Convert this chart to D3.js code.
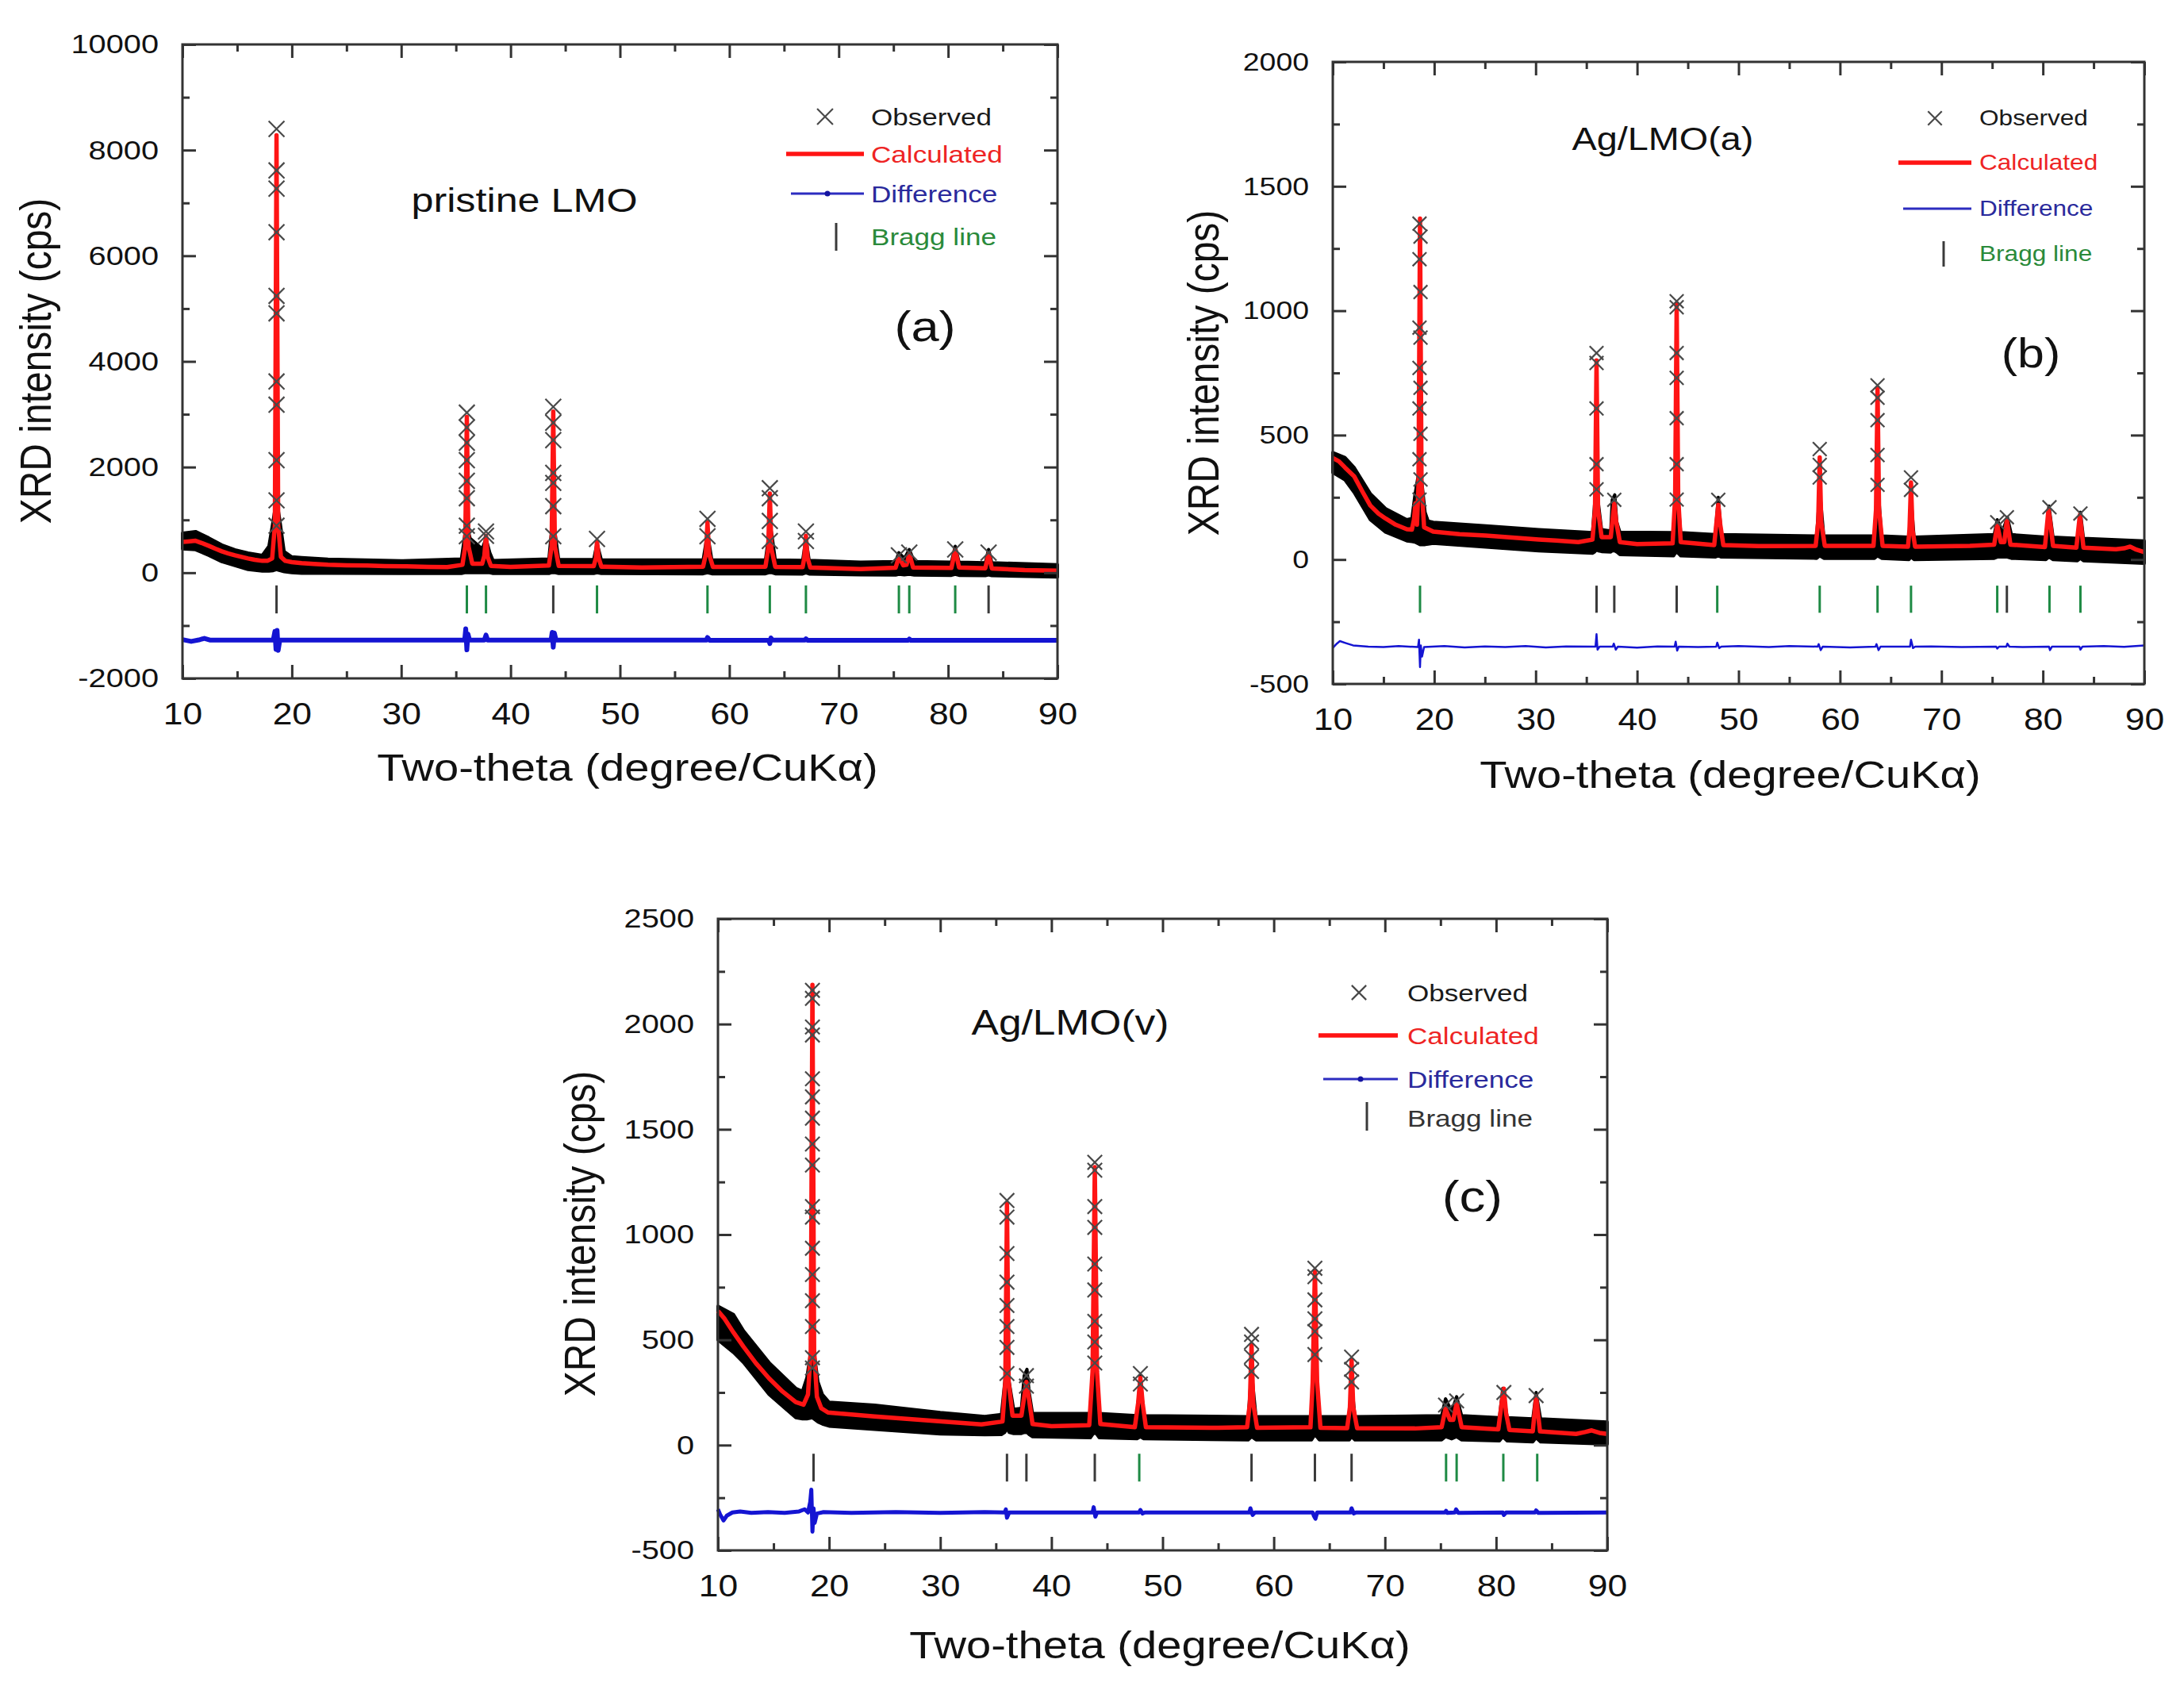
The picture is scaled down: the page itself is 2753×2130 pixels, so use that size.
<!DOCTYPE html>
<html>
<head>
<meta charset="utf-8">
<script src="https://cdn.jsdelivr.net/npm/d3@7"></script>
<style>
  body { margin: 0; background: #fff; }
</style>
</head>
<body>
<script>
// ---- tick values ----
var xTicks = [10, 20, 30, 40, 50, 60, 70, 80, 90];
var xMinor = [15, 25, 35, 45, 55, 65, 75, 85];
var yTicksA = [-2000, 0, 2000, 4000, 6000, 8000, 10000];
var yMinorA = [-1000, 1000, 3000, 5000, 7000, 9000];
var yTicksB = [-500, 0, 500, 1000, 1500, 2000];
var yMinorB = [-250, 250, 750, 1250, 1750];
var yTicksC = [-500, 0, 500, 1000, 1500, 2000, 2500];
var yMinorC = [-250, 250, 750, 1250, 1750, 2250];

var legendLabels = ["Observed", "Calculated", "Difference", "Bragg line"];

// ---- Bragg reflections (2theta) and their colour per panel: k = dark, g = green ----
var braggPos = [18.6, 36.0, 37.75, 43.9, 47.9, 58.0, 63.7, 67.0, 75.5, 76.45, 80.65, 83.7];
var braggColA = ["k", "g", "g", "k", "g", "g", "g", "g", "g", "g", "g", "k"];
var braggColB = ["g", "k", "k", "k", "g", "g", "g", "g", "g", "k", "g", "g"];
var braggColC = ["k", "k", "k", "k", "g", "k", "k", "k", "g", "g", "g", "g"];

// ---- panel (a) pristine LMO ----
var calcA = [[10.0,585],[10.5,592],[11.2,605],[11.8,560],[12.4,510],[13.0,455],[13.6,405],[14.2,365],[14.8,330],[15.4,300],[16.0,270],[16.6,245],[17.3,225],[17.8,228],[18.2,270],[18.45,900],[18.6,8280],[18.75,900],[19.0,300],[19.4,225],[20.0,200],[20.9,180],[22.0,165],[23.3,150],[25.0,142],[26.9,135],[28.5,125],[30.5,120],[32.5,112],[34.2,105],[35.6,150],[35.85,500],[36.0,2950],[36.15,500],[36.5,170],[37.4,170],[37.6,320],[37.75,700],[37.9,300],[38.2,130],[40.0,110],[43.5,135],[43.75,500],[43.9,3050],[44.05,500],[44.4,130],[47.6,125],[47.8,280],[47.9,600],[48.05,280],[48.3,115],[52.0,100],[57.6,115],[57.85,350],[58.0,950],[58.15,350],[58.5,110],[63.3,115],[63.55,450],[63.7,1500],[63.85,450],[64.2,110],[66.7,105],[66.85,280],[67.0,700],[67.15,280],[67.4,100],[72.0,70],[75.2,95],[75.5,300],[75.9,140],[76.2,150],[76.45,360],[76.8,100],[80.3,90],[80.65,430],[81.0,100],[83.4,85],[83.7,360],[84.0,80],[87.0,50],[90.0,40]];
var bandA = [[10,450,750],[11.2,435,780],[12.4,330,660],[13.6,210,525],[14.8,135,435],[16.0,60,375],[17.3,30,330],[17.9,30,500],[18.3,40,1000],[18.6,60,1400],[18.9,40,1000],[19.3,20,400],[20.0,0,300],[20.9,-10,285],[23.3,-10,255],[30.0,-15,225],[35.5,-15,260],[35.8,0,700],[36.0,0,900],[36.3,0,650],[37.4,0,450],[37.75,0,650],[38.1,0,380],[38.4,-15,230],[43.5,-15,260],[43.7,0,700],[43.9,0,950],[44.1,0,700],[44.4,-15,250],[47.6,-15,250],[47.9,0,560],[48.3,-15,240],[57.6,-20,240],[58.0,0,750],[58.4,-20,240],[63.3,-20,240],[63.6,0,700],[63.7,0,950],[63.9,0,700],[64.2,-20,240],[66.7,-25,235],[67.0,0,650],[67.3,-25,235],[72.0,-40,200],[75.2,-45,210],[75.5,-30,380],[76.0,-40,270],[76.45,-30,440],[76.9,-45,210],[80.3,-50,200],[80.65,-30,500],[81.0,-50,200],[83.4,-55,190],[83.7,-40,440],[84.0,-55,190],[90.0,-80,150]];
var obsA = [[18.6,8400],[18.6,7615],[18.6,7270],[18.6,6445],[18.6,5240],[18.6,4910],[18.6,3620],[18.6,3180],[18.6,2130],[18.6,1370],[18.6,890],[36.0,3030],[36.0,2750],[36.0,2460],[36.0,2130],[36.0,1740],[36.0,1410],[36.0,890],[36.0,690],[37.75,780],[37.75,700],[43.9,3140],[43.9,2840],[43.9,2510],[43.9,1890],[43.9,1700],[43.9,1260],[43.9,690],[47.9,640],[58.0,1020],[58.0,690],[63.7,1600],[63.7,1410],[63.7,980],[63.7,600],[67.0,780],[67.0,600],[75.5,330],[76.45,380],[80.65,440],[83.7,380]];
var diffA = [[10.0,-1265],[10.8,-1300],[11.5,-1272],[12.0,-1242],[12.5,-1275],[18.3,-1275],[18.45,-1110],[18.55,-1450],[18.65,-1090],[18.75,-1470],[18.9,-1275],[35.8,-1275],[35.9,-1060],[36.0,-1460],[36.1,-1160],[36.25,-1275],[37.6,-1275],[37.75,-1180],[37.9,-1275],[43.7,-1275],[43.8,-1130],[43.9,-1410],[44.0,-1140],[44.15,-1275],[57.9,-1275],[58.0,-1225],[58.2,-1280],[63.6,-1275],[63.7,-1340],[63.8,-1235],[63.95,-1275],[66.9,-1275],[67.0,-1250],[67.15,-1278],[76.35,-1278],[76.45,-1255],[76.6,-1280],[90.0,-1280]];

// ---- panel (b) Ag/LMO(a) ----
var calcB = [[10.0,408],[10.6,395],[11.2,370],[12.1,335],[12.9,275],[13.7,217],[14.5,185],[15.2,165],[16.2,140],[17.3,122],[17.8,120],[18.0,160],[18.15,226],[18.3,140],[18.45,300],[18.6,1370],[18.75,300],[19.0,130],[19.9,112],[22.5,102],[25.1,96],[27.7,88],[30.3,80],[32.0,76],[34.2,70],[35.6,80],[35.85,200],[36.0,800],[36.15,200],[36.5,90],[37.4,90],[37.55,150],[37.75,225],[37.95,150],[38.3,70],[40.0,62],[43.5,65],[43.75,250],[43.9,1030],[44.05,250],[44.3,70],[47.6,58],[47.8,140],[48.0,220],[48.2,140],[48.5,58],[52.0,54],[57.6,55],[57.85,150],[58.0,410],[58.15,150],[58.5,55],[63.3,55],[63.55,200],[63.7,690],[63.85,200],[64.2,55],[66.7,52],[66.85,120],[67.0,310],[67.15,120],[67.4,52],[72.8,55],[75.2,60],[75.5,140],[75.85,70],[76.2,70],[76.45,160],[76.8,60],[80.2,50],[80.55,200],[80.7,160],[81.0,55],[83.3,48],[83.65,180],[84.0,48],[87.2,41],[88.0,45],[88.6,52],[89.2,40],[90.0,30]];
var bandB = [[10,350,430],[11.2,320,410],[12.1,270,370],[13.7,160,265],[15.2,110,205],[17.3,75,160],[17.8,72,165],[18.1,70,260],[18.6,60,380],[19.1,60,190],[19.4,62,155],[19.9,65,150],[25.1,50,135],[30.3,35,120],[35.6,25,108],[35.8,30,220],[36.0,40,300],[36.2,35,220],[36.5,32,120],[37.4,30,115],[37.55,35,240],[37.8,35,260],[38.0,30,150],[38.3,20,110],[43.6,15,108],[43.75,25,230],[43.9,30,300],[44.05,25,230],[44.3,15,108],[47.7,10,100],[48.0,15,250],[48.3,10,100],[57.7,5,95],[58.0,15,280],[58.4,5,95],[63.4,5,95],[63.7,15,320],[64.1,5,95],[66.8,0,90],[67.0,10,250],[67.3,0,90],[75.2,5,100],[75.5,10,160],[76.0,10,110],[76.5,10,170],[76.9,5,100],[80.3,0,90],[80.6,10,215],[81.0,0,90],[83.4,-5,85],[83.7,5,190],[84.0,-5,85],[90.0,-15,75]];
var obsB = [[18.55,1350],[18.65,1298],[18.55,1207],[18.65,1075],[18.55,932],[18.65,892],[18.55,770],[18.65,690],[18.55,607],[18.65,505],[18.55,403],[18.65,322],[18.55,241],[36.0,830],[36.0,790],[36.0,607],[36.0,383],[36.0,282],[37.75,240],[43.9,1038],[43.9,1014],[43.9,830],[43.9,730],[43.9,568],[43.9,383],[43.9,241],[48.0,240],[58.0,444],[58.0,380],[58.0,330],[63.7,700],[63.7,650],[63.7,560],[63.7,420],[63.7,300],[67.0,330],[67.0,280],[75.5,150],[76.45,170],[80.65,210],[83.7,185]];
var diffB = [[10.0,-355],[10.4,-338],[10.7,-328],[11.3,-336],[12.0,-345],[13.5,-350],[15.0,-352],[16.5,-348],[18.4,-352],[18.5,-322],[18.6,-432],[18.68,-345],[18.8,-390],[19.0,-352],[21.0,-348],[23.0,-353],[25.0,-349],[27.0,-352],[29.0,-348],[31.0,-353],[33.0,-349],[35.9,-350],[36.0,-300],[36.1,-362],[36.3,-350],[37.6,-350],[37.7,-338],[37.9,-362],[38.1,-350],[40.0,-354],[42.0,-349],[43.7,-350],[43.8,-330],[43.95,-366],[44.1,-350],[46.0,-352],[47.8,-350],[47.9,-334],[48.1,-356],[48.3,-350],[50.0,-348],[53.0,-352],[55.0,-348],[57.8,-350],[57.9,-340],[58.1,-364],[58.3,-350],[61.0,-353],[63.5,-350],[63.6,-340],[63.8,-364],[64.0,-350],[66.9,-350],[67.0,-322],[67.2,-356],[67.4,-350],[69.0,-349],[72.0,-352],[75.4,-350],[75.5,-358],[75.7,-350],[76.4,-350],[76.5,-338],[76.7,-350],[78.0,-352],[80.6,-350],[80.7,-364],[80.9,-350],[82.0,-350],[83.6,-350],[83.7,-362],[83.9,-350],[86.0,-348],[88.0,-351],[90.0,-345]];

// ---- panel (c) Ag/LMO(v) ----
var calcC = [[10.0,637],[10.6,600],[11.4,535],[12.3,467],[13.4,390],[14.6,317],[15.8,255],[17.0,204],[17.7,192],[18.1,240],[18.35,450],[18.5,2186],[18.65,450],[18.9,230],[19.3,175],[19.9,155],[22.0,145],[24.1,136],[26.5,127],[28.9,117],[31.3,108],[33.7,98],[35.6,112],[35.85,300],[36.0,1150],[36.15,300],[36.5,140],[37.3,140],[37.55,230],[37.75,300],[37.95,230],[38.3,100],[40.0,90],[43.4,95],[43.7,350],[43.9,1320],[44.1,350],[44.4,100],[47.5,85],[47.8,200],[48.0,320],[48.2,200],[48.5,85],[55.0,82],[57.6,85],[57.85,200],[58.0,480],[58.15,200],[58.5,82],[63.3,85],[63.5,300],[63.7,830],[63.9,300],[64.2,82],[66.6,80],[66.85,180],[67.0,406],[67.15,180],[67.5,80],[72.7,79],[75.1,85],[75.45,173],[75.85,120],[76.15,120],[76.45,200],[76.9,85],[80.2,75],[80.5,200],[80.7,268],[80.9,150],[81.2,72],[83.3,65],[83.6,230],[83.95,65],[87.2,53],[88.0,62],[88.6,70],[89.3,58],[90.0,53]];
var bandC = [[10,500,660],[11.4,440,620],[12.3,392,543],[14.6,241,392],[17.0,130,270],[17.6,125,255],[18.0,125,320],[18.5,130,500],[19.0,110,300],[19.4,100,240],[20.0,90,204],[24.1,75,190],[30.0,53,155],[34.0,49,136],[35.5,50,145],[35.8,60,300],[36.0,80,420],[36.2,60,300],[36.6,55,170],[37.3,55,175],[37.55,60,330],[37.8,60,360],[38.0,50,250],[38.3,40,150],[43.5,35,150],[43.7,50,300],[43.9,60,420],[44.1,50,300],[44.3,35,150],[47.7,30,140],[48.0,40,330],[48.3,30,140],[57.7,25,135],[58.0,40,350],[58.4,25,135],[63.4,25,135],[63.7,50,430],[64.1,25,135],[66.8,25,135],[67.0,40,300],[67.3,25,135],[75.1,25,140],[75.45,40,220],[76.0,30,160],[76.45,40,230],[76.9,25,140],[80.3,20,130],[80.6,40,270],[81.0,20,130],[83.3,15,125],[83.6,35,250],[84.0,15,125],[90.0,5,110]];
var obsC = [[18.5,2160],[18.5,2122],[18.5,1986],[18.5,1948],[18.5,1740],[18.5,1654],[18.5,1553],[18.5,1430],[18.5,1330],[18.5,1133],[18.5,1083],[18.5,935],[18.5,810],[18.5,686],[18.5,563],[18.5,415],[18.5,366],[36.0,1162],[36.0,1083],[36.0,910],[36.0,774],[36.0,663],[36.0,563],[36.0,464],[36.0,340],[37.75,330],[37.75,280],[43.9,1343],[43.9,1306],[43.9,1133],[43.9,1034],[43.9,860],[43.9,737],[43.9,588],[43.9,490],[43.9,390],[48.0,340],[48.0,290],[58.0,526],[58.0,490],[58.0,420],[58.0,350],[63.7,840],[63.7,800],[63.7,690],[63.7,600],[63.7,540],[63.7,430],[67.0,418],[67.0,360],[67.0,300],[75.45,190],[76.45,210],[80.7,250],[83.6,235]];
var diffC = [[10.0,-305],[10.2,-330],[10.5,-358],[10.8,-335],[11.3,-320],[12.0,-315],[13.0,-322],[14.5,-318],[16.0,-322],[17.3,-315],[17.8,-305],[18.1,-320],[18.3,-270],[18.4,-212],[18.5,-411],[18.6,-300],[18.7,-370],[18.9,-325],[19.5,-318],[22.0,-322],[26.0,-318],[30.0,-322],[34.0,-318],[35.8,-320],[35.9,-305],[36.0,-345],[36.2,-320],[43.7,-320],[43.8,-295],[43.95,-340],[44.1,-320],[47.9,-320],[48.0,-308],[48.2,-325],[48.4,-320],[57.8,-320],[57.9,-300],[58.1,-332],[58.3,-320],[63.5,-320],[63.6,-335],[63.75,-350],[63.9,-320],[66.9,-320],[67.0,-300],[67.2,-325],[67.4,-320],[75.4,-320],[75.5,-312],[75.6,-322],[76.3,-320],[76.4,-305],[76.6,-322],[80.6,-320],[80.7,-332],[80.9,-320],[83.5,-320],[83.6,-310],[83.8,-322],[90.0,-320]];

// ---- drawing ----
var FONT = '"Liberation Sans", Arial, Helvetica, sans-serif';
var SX = 1.17;            // the figure is stretched horizontally
var GREEN = "#1e8a44", DARK = "#3a3a3a", AXIS = "#333";

var svg = d3.select("body").append("svg")
    .attr("width", 2753)
    .attr("height", 2130)
    .style("display", "block")
    .attr("font-family", FONT);

function stext(g, x, y, str, size, anchor, fill, dy, rot) {
  return g.append("text")
    .attr("transform", "translate(" + x + "," + y + ") scale(" + SX + ",1)" + (rot ? " rotate(-90)" : ""))
    .attr("font-size", size)
    .attr("text-anchor", anchor)
    .attr("fill", fill)
    .attr("dy", dy)
    .text(str);
}

var panels = [
  { left: 230, right: 1333, top: 56, bottom: 855, yDomain: [-2000, 10000],
    yTicks: yTicksA, yMinor: yMinorA, yFont: 34,
    calc: calcA, band: bandA, obs: obsA, diff: diffA, diffW: 6,
    braggCol: braggColA, braggY: [-240, -770], crossSize: 260,
    xTitle: [791, 984], yTitle: [64, 455],
    label: ["pristine LMO", 661, 252, 43], tag: ["(a)", 1166, 411, 54],
    legend: { crossX: 1040, textX: 1098, rows: [147, 194, 244, 298], line: [991, 1089],
              braggX: 1054, braggY: [281, 316], font: 30, dot: true, braggText: "#2a8a3a" } },
  { left: 1680, right: 2703, top: 78, bottom: 862, yDomain: [-500, 2000],
    yTicks: yTicksB, yMinor: yMinorB, yFont: 32,
    calc: calcB, band: bandB, obs: obsB, diff: diffB, diffW: 2.5,
    braggCol: braggColB, braggY: [-105, -214], crossSize: 200,
    xTitle: [2181, 993], yTitle: [1536, 470],
    label: ["Ag/LMO(a)", 2096, 175, 40], tag: ["(b)", 2560, 445, 52],
    legend: { crossX: 2439, textX: 2495, rows: [149, 205, 263, 320], line: [2393, 2485],
              braggX: 2450, braggY: [304, 336], font: 27, dot: false, braggText: "#2a8a3a" } },
  { left: 905, right: 2026, top: 1158, bottom: 1954, yDomain: [-500, 2500],
    yTicks: yTicksC, yMinor: yMinorC, yFont: 34,
    calc: calcC, band: bandC, obs: obsC, diff: diffC, diffW: 5,
    braggCol: braggColC, braggY: [-41, -173], crossSize: 220,
    xTitle: [1462, 2090], yTitle: [750, 1555],
    label: ["Ag/LMO(v)", 1349, 1289, 44], tag: ["(c)", 1856, 1507, 56],
    legend: { crossX: 1713, textX: 1774, rows: [1251, 1305, 1360, 1409], line: [1662, 1762],
              braggX: 1723, braggY: [1389, 1425], font: 30, dot: true, braggText: "#333" } }
];

var xSymbol = d3.symbolX || d3.symbolCross;

panels.forEach(function (p) {
  var x = d3.scaleLinear().domain([10, 90]).range([p.left, p.right]);
  var y = d3.scaleLinear().domain(p.yDomain).range([p.bottom, p.top]);
  var g = svg.append("g");

  // observed: dense band of crosses
  g.append("path").datum(p.band)
    .attr("d", d3.area().x(function (d) { return x(d[0]); })
                        .y0(function (d) { return y(d[1]); })
                        .y1(function (d) { return y(d[2]); }))
    .attr("fill", "#000").attr("stroke", "#000")
    .attr("stroke-width", 4).attr("stroke-linejoin", "round");

  // calculated
  g.append("path").datum(p.calc)
    .attr("d", d3.line().x(function (d) { return x(d[0]); }).y(function (d) { return y(d[1]); }))
    .attr("fill", "none").attr("stroke", "#ff1414")
    .attr("stroke-width", 5.5).attr("stroke-linejoin", "round");

  // observed crosses on the peaks
  var sym = d3.symbol().type(xSymbol).size(p.crossSize);
  g.selectAll(".obs").data(p.obs).enter().append("path")
    .attr("transform", function (d) {
      return "translate(" + x(d[0]) + "," + y(d[1]) + ")" + (d3.symbolX ? "" : " rotate(45)");
    })
    .attr("d", sym)
    .attr("fill", "none").attr("stroke", "#4a4a4a").attr("stroke-width", 2.2);

  // Bragg lines
  g.selectAll(".bragg").data(braggPos).enter().append("line")
    .attr("x1", function (d) { return x(d); }).attr("x2", function (d) { return x(d); })
    .attr("y1", y(p.braggY[0])).attr("y2", y(p.braggY[1]))
    .attr("stroke", function (d, i) { return p.braggCol[i] === "g" ? GREEN : DARK; })
    .attr("stroke-width", 3);

  // difference
  g.append("path").datum(p.diff)
    .attr("d", d3.line().x(function (d) { return x(d[0]); }).y(function (d) { return y(d[1]); }))
    .attr("fill", "none").attr("stroke", "#1414d2")
    .attr("stroke-width", p.diffW).attr("stroke-linejoin", "round");

  // frame
  g.append("rect").attr("x", p.left).attr("y", p.top)
    .attr("width", p.right - p.left).attr("height", p.bottom - p.top)
    .attr("fill", "none").attr("stroke", AXIS).attr("stroke-width", 3);

  // axes, ticks inward on all four sides
  function styleAxis(ax) {
    ax.select(".domain").remove();
    ax.selectAll("line").attr("stroke", AXIS).attr("stroke-width", 3);
    ax.attr("font-family", FONT);
  }
  var gx = g.append("g").attr("transform", "translate(0," + p.bottom + ")")
    .call(d3.axisBottom(x).tickValues(xTicks).tickSizeInner(-17).tickSizeOuter(0)
          .tickFormat(function (d) { return String(d); }));
  styleAxis(gx);
  gx.attr("font-size", 38);
  gx.selectAll("text").attr("y", 58).attr("dy", 0).attr("fill", "#111")
    .attr("transform", "scale(" + SX + ",1)");
  styleAxis(g.append("g").attr("transform", "translate(0," + p.bottom + ")")
    .call(d3.axisBottom(x).tickValues(xMinor).tickSizeInner(-9).tickSizeOuter(0).tickFormat("")));
  styleAxis(g.append("g").attr("transform", "translate(0," + p.top + ")")
    .call(d3.axisTop(x).tickValues(xTicks).tickSizeInner(-17).tickSizeOuter(0).tickFormat("")));
  styleAxis(g.append("g").attr("transform", "translate(0," + p.top + ")")
    .call(d3.axisTop(x).tickValues(xMinor).tickSizeInner(-9).tickSizeOuter(0).tickFormat("")));

  var gy = g.append("g").attr("transform", "translate(" + p.left + ",0)")
    .call(d3.axisLeft(y).tickValues(p.yTicks).tickSizeInner(-17).tickSizeOuter(0)
          .tickFormat(function (d) { return String(d); }));
  styleAxis(gy);
  gy.attr("font-size", p.yFont);
  gy.selectAll("text").attr("x", -30 / SX).attr("fill", "#111")
    .attr("transform", "scale(" + SX + ",1)");
  styleAxis(g.append("g").attr("transform", "translate(" + p.left + ",0)")
    .call(d3.axisLeft(y).tickValues(p.yMinor).tickSizeInner(-9).tickSizeOuter(0).tickFormat("")));
  styleAxis(g.append("g").attr("transform", "translate(" + p.right + ",0)")
    .call(d3.axisRight(y).tickValues(p.yTicks).tickSizeInner(-17).tickSizeOuter(0).tickFormat("")));
  styleAxis(g.append("g").attr("transform", "translate(" + p.right + ",0)")
    .call(d3.axisRight(y).tickValues(p.yMinor).tickSizeInner(-9).tickSizeOuter(0).tickFormat("")));

  // titles
  stext(g, p.xTitle[0], p.xTitle[1], "Two-theta (degree/CuK\u03b1)", 48, "middle", "#111", 0, false);
  stext(g, p.yTitle[0], p.yTitle[1], "XRD intensity (cps)", 48, "middle", "#111", 0, true);
  stext(g, p.label[1], p.label[2], p.label[0], p.label[3], "middle", "#111", "0.35em", false);
  stext(g, p.tag[1], p.tag[2], p.tag[0], p.tag[3], "middle", "#111", "0.35em", false);

  // legend
  var L = p.legend;
  var lg = g.append("g");
  lg.append("path")
    .attr("transform", "translate(" + L.crossX + "," + L.rows[0] + ")" + (d3.symbolX ? "" : " rotate(45)"))
    .attr("d", d3.symbol().type(xSymbol).size(p.crossSize)())
    .attr("fill", "none").attr("stroke", "#4a4a4a").attr("stroke-width", 2.2);
  lg.append("line").attr("x1", L.line[0]).attr("x2", L.line[1])
    .attr("y1", L.rows[1]).attr("y2", L.rows[1])
    .attr("stroke", "#ff1414").attr("stroke-width", 5.5);
  lg.append("line").attr("x1", L.line[0] + 6).attr("x2", L.line[1])
    .attr("y1", L.rows[2]).attr("y2", L.rows[2])
    .attr("stroke", "#2c2cc0").attr("stroke-width", 3);
  if (L.dot) {
    lg.append("circle").attr("cx", (L.line[0] + L.line[1]) / 2 + 3).attr("cy", L.rows[2])
      .attr("r", 3.5).attr("fill", "#1414a0");
  }
  lg.append("line").attr("x1", L.braggX).attr("x2", L.braggX)
    .attr("y1", L.braggY[0]).attr("y2", L.braggY[1])
    .attr("stroke", DARK).attr("stroke-width", 3);
  var lcol = ["#1a1a1a", "#ee2424", "#2a2a9c", L.braggText];
  legendLabels.forEach(function (t, i) {
    stext(lg, L.textX, L.rows[i], t, L.font, "start", lcol[i], "0.35em", false);
  });
});
</script>
</body>
</html>
